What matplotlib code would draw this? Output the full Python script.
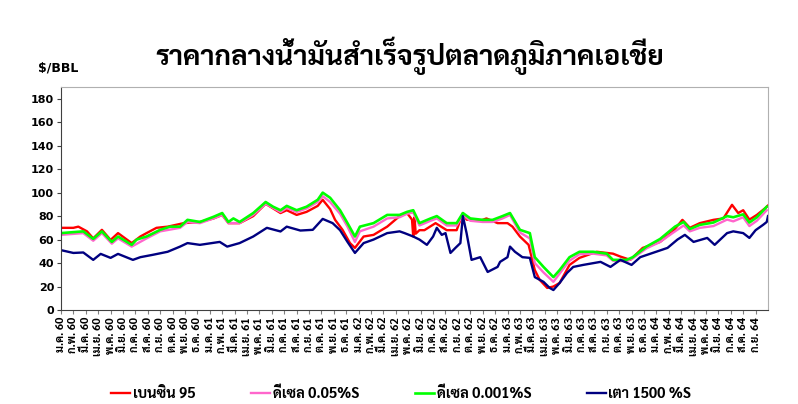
import matplotlib
matplotlib.use('Agg')
import matplotlib.pyplot as plt

plt.rcParams['font.family'] = ['Sarabun', 'DejaVu Sans']
plt.rcParams['font.weight'] = 'bold'

# month index: 0 = ม.ค. 60 (Jan 2017)
months_th = ['ม.ค.', 'ก.พ.', 'มี.ค.', 'เม.ย.', 'พ.ค.', 'มิ.ย.',
             'ก.ค.', 'ส.ค.', 'ก.ย.', 'ต.ค.', 'พ.ย.', 'ธ.ค.']
years_th = [60, 61, 62, 63, 64]
n_months = 57

# เบนซิน 95
red_m = [0, 1.0, 1.4, 2.1, 2.6, 3.3, 4.0, 4.6, 5.7, 6.4,
         6.9, 7.7, 8.6, 9.9, 11.2, 12.3, 13.0, 13.5, 14.4, 15.5,
         16.5, 17.7, 18.2, 19.0, 19.8, 20.7, 21.1, 21.7, 22.1, 22.7,
         23.3, 23.7, 24.4, 25.2, 26.3, 27.3, 27.9, 28.3, 28.4, 28.5,
         28.6, 28.9, 29.3, 30.2, 31.1, 31.9, 32.4, 32.7, 33.8, 34.3,
         35.2, 36.0, 36.4, 37.0, 37.7, 38.2, 38.6, 39.2, 39.7, 40.2,
         41.0, 41.8, 43.2, 44.5, 45.1, 45.9, 46.9, 48.3, 49.3, 50.1,
         50.7, 51.5, 52.6, 53.4, 54.1, 54.6, 55.0, 55.5, 56.1, 56.8,
         57.0]
red_v = [70, 70, 71, 67, 61, 68.3, 59.7, 65.5, 57, 62.6,
         65.5, 70, 71, 74, 75, 78, 81, 74, 74, 80,
         90.5, 82.6, 85, 81, 83.6, 88.7, 93.9, 86, 76.8, 68.3,
         57, 52.9, 62.6, 64, 71, 80, 82.6, 77, 62.6, 79,
         65, 68, 68, 74, 68, 68, 82.6, 77, 76, 78,
         74, 74, 71, 62.6, 55.5, 34, 25.6, 18.8, 20, 23,
         38.4, 44.4, 49.6, 48, 45.5, 42.7, 52.9, 58, 66.6, 76.8,
         70, 74, 76.8, 78, 89.6, 82.6, 85, 77, 81, 87,
         89]

# ดีเซล 0.05%S
pink_m = [0, 1.8, 2.6, 3.3, 4.1, 4.6, 5.7, 6.9, 8.0, 9.6,
          10.2, 11.2, 12.3, 13.0, 13.5, 14.4, 15.5, 16.5, 17.7, 18.2,
          19.0, 19.8, 20.7, 21.1, 21.7, 22.5, 23.1, 23.7, 24.1, 25.2,
          26.3, 27.3, 27.9, 28.4, 28.9, 29.8, 30.3, 31.1, 31.9, 32.4,
          33.0, 34.0, 34.8, 35.6, 36.2, 37.0, 37.8, 38.2, 38.9, 39.7,
          40.2, 41.0, 41.8, 42.9, 44.0, 44.5, 45.6, 46.1, 47.2, 48.3,
          49.3, 50.2, 50.7, 51.5, 52.6, 53.7, 54.2, 55.0, 55.5, 56.1,
          56.9]
pink_v = [64, 65.5, 59, 65.5, 56.5, 61, 54, 61, 67, 70,
          75, 74, 78, 81, 74, 74, 81, 90.5, 83.5, 87,
          83.5, 86.5, 92, 97, 92, 82, 71, 58, 67, 71,
          78, 79, 82, 83, 72, 76, 78, 72, 72, 81,
          76, 75, 75, 78, 81, 66, 61, 40, 32, 24,
          31, 42, 47.5, 48, 46.5, 42, 41.5, 44, 52.5, 58,
          65.5, 72, 67, 70, 71.5, 77, 75.5, 79, 71.5, 76,
          85]

# ดีเซล 0.001%S
green_m = [0, 1.8, 2.6, 3.3, 4.1, 4.6, 5.7, 6.1, 6.9, 8.0,
           8.8, 9.6, 10.2, 11.2, 12.3, 13.0, 13.5, 13.9, 14.4, 15.5,
           16.5, 17.1, 17.7, 18.2, 19.0, 19.8, 20.7, 21.1, 21.7, 22.5,
           23.1, 23.7, 24.1, 25.2, 26.3, 27.3, 27.9, 28.4, 28.9, 29.8,
           30.3, 31.1, 31.9, 32.4, 33.0, 34.0, 34.8, 35.6, 36.2, 37.0,
           37.8, 38.2, 38.9, 39.7, 40.2, 41.0, 41.8, 42.9, 44.0, 44.5,
           45.6, 46.1, 47.2, 48.3, 49.5, 50.2, 50.7, 51.5, 52.6, 53.7,
           54.2, 55.0, 55.5, 56.1, 56.9]
green_v = [65.5, 67, 60.6, 67, 58, 62.6, 55.5, 60, 62.6, 68.3,
           71, 71, 76.8, 75, 79.4, 82.6, 75, 78, 75, 82.6,
           92, 88, 85, 88.7, 85, 88, 93.9, 100, 95.6, 85,
           74, 62.6, 71, 74, 81, 81, 83.6, 85, 74, 78,
           80, 74, 74, 82.6, 78, 76.8, 76.8, 80, 82.6, 68.3,
           65.5, 45, 36.7, 28, 34, 45, 49.6, 49.6, 48, 42.7,
           42.7, 45, 54, 60.5, 71, 75, 69, 72.5, 74.5, 80,
           79, 81.5, 74.5, 79, 88]

# เตา 1500 %S
blue_m = [0, 1.0, 1.8, 2.6, 3.2, 4.0, 4.6, 5.8, 6.4, 7.4,
          8.6, 9.6, 10.2, 11.2, 12.8, 13.4, 14.4, 15.5, 16.6, 17.7,
          18.2, 19.3, 20.3, 21.1, 21.9, 22.5, 23.1, 23.7, 24.4, 25.2,
          26.3, 27.3, 27.7, 28.4, 28.9, 29.5, 30.0, 30.3, 30.7, 31.0,
          31.4, 31.8, 32.2, 32.4, 32.7, 33.1, 33.8, 34.4, 35.2, 35.4,
          36.0, 36.2, 36.6, 37.2, 37.8, 38.2, 38.9, 39.4, 39.7, 40.2,
          40.8, 41.3, 42.1, 43.5, 44.3, 45.1, 46.0, 46.7, 47.7, 48.9,
          49.7, 50.3, 51.0, 52.1, 52.7, 53.7, 54.2, 55.0, 55.5, 56.0,
          56.6, 56.9, 57.0]
blue_v = [51, 48.6, 49, 42.7, 47.8, 44.4, 47.8, 42.7, 45, 47,
          49.6, 54, 57, 55.5, 58, 54, 57, 62.6, 70, 66.9,
          71, 67.7, 68.3, 77.6, 74, 68, 58, 48.6, 57, 60,
          65.5, 67, 65.5, 62.6, 60, 55.5, 62.6, 70, 64, 65.5,
          48.6, 52.9, 57, 80, 65.5, 42.7, 45, 32.4, 36.7, 41,
          45, 54, 49.6, 45, 44.4, 28, 24, 18.8, 17, 23,
          31.6, 36.7, 38.4, 41, 36.7, 42.7, 38.4, 45, 48.6, 52.9,
          60, 64, 58, 61.4, 55.5, 65.5, 67, 65.5, 61.4, 68,
          72.5, 75, 80]


def main():
    fig = plt.figure(figsize=(7.98, 4.04), dpi=100)
    ax = fig.add_axes([0.0764, 0.2327, 0.886, 0.552])

    ax.plot(red_m, red_v, color='#ff0000', lw=1.7, label='เบนซิน 95')
    ax.plot(pink_m, pink_v, color='#ff66cc', lw=1.7, label='ดีเซล 0.05%S')
    ax.plot(green_m, green_v, color='#00ff00', lw=1.9, label='ดีเซล 0.001%S')
    ax.plot(blue_m, blue_v, color='#000080', lw=1.7, label='เตา 1500 %S')

    ax.set_xlim(0, n_months)
    ax.set_ylim(0, 190)
    ax.set_yticks(range(0, 181, 20))
    ax.set_yticklabels([str(v) for v in range(0, 181, 20)],
                       family='DejaVu Sans', fontweight='bold', fontsize=8)
    ax.set_xticks(range(n_months))
    labels = [months_th[i % 12] + ' ' + str(years_th[i // 12]) for i in range(n_months)]
    ax.set_xticklabels(labels, rotation=90, fontsize=8, fontweight='bold')
    ax.tick_params(axis='y', length=3, color='#404040', pad=2)
    ax.tick_params(axis='x', length=3, color='#808080', pad=2)

    for s in ['left', 'bottom']:
        ax.spines[s].set_color('#404040')
    for s in ['top', 'right']:
        ax.spines[s].set_color('#b0b0b0')

    fig.text(0.514, 0.862, 'ราคากลางน้ำมันสำเร็จรูปตลาดภูมิภาคเอเชีย',
             ha='center', va='center', fontsize=20, fontweight='bold')
    fig.text(0.048, 0.832, '$/BBL', ha='left', va='center', fontsize=9,
             fontweight='bold', family='DejaVu Sans')

    fig.legend(loc='lower center', bbox_to_anchor=(0.503, -0.025), ncol=4, frameon=False,
               prop={'size': 10.5, 'weight': 'bold'}, handlelength=1.3,
               handletextpad=0.2, columnspacing=3.8)

    fig.savefig('out.png')


if __name__ == '__main__':
    main()
